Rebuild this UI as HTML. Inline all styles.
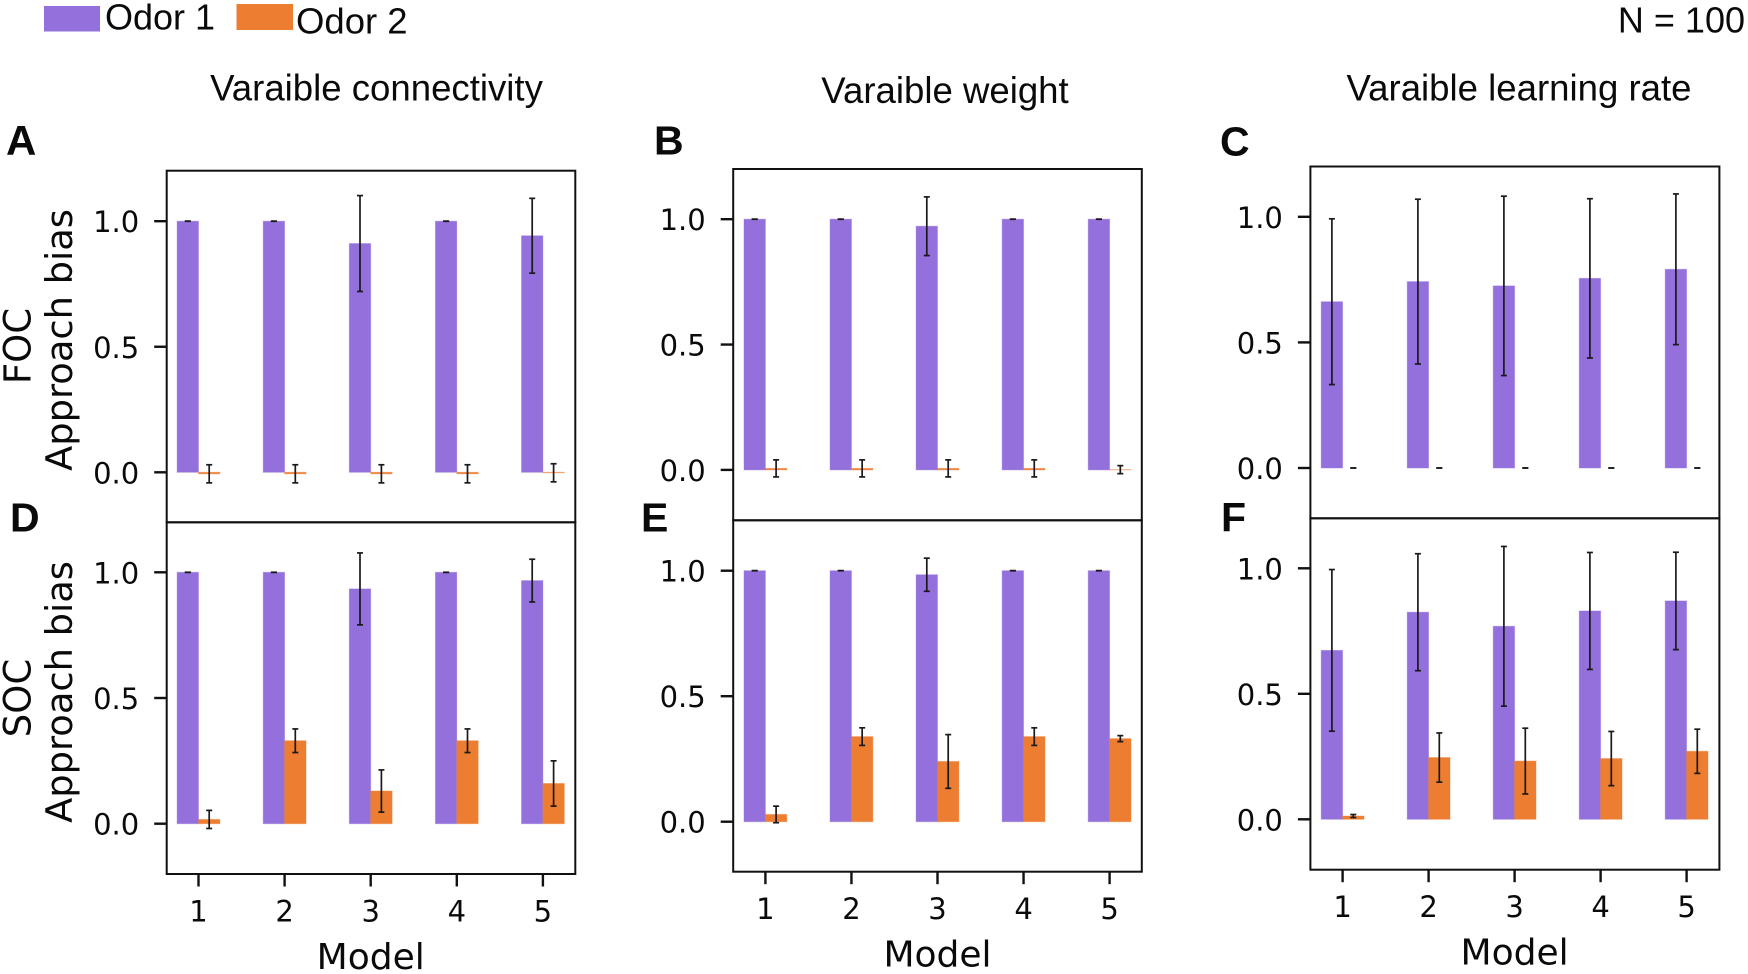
<!DOCTYPE html>
<html lang="en">
<head>
<meta charset="utf-8">
<title>Approach bias by model</title>
<style>
html,body{margin:0;padding:0;background:#fff;}
svg{display:block;}
.sans{font-family:"Liberation Sans",Arial,sans-serif;fill:#0a0a0a;}
.dv{font-family:"DejaVu Sans",Verdana,sans-serif;fill:#0a0a0a;}
</style>
</head>
<body>
<svg id="chart" xmlns="http://www.w3.org/2000/svg" width="1748" height="974" viewBox="0 0 1748 974">
  <rect x="0" y="0" width="1748" height="974" fill="#ffffff"/>
  <g>
    <rect x="44" y="6" width="56" height="25.5" fill="#9370DB"/>
    <text class="sans" x="105" y="29.5" font-size="36">Odor 1</text>
    <rect x="236.5" y="4" width="56.5" height="26" fill="#ED7D31"/>
    <text class="sans" x="296" y="33.5" font-size="36.5">Odor 2</text>
  </g>
  <text class="sans" x="1745" y="32.5" font-size="36" text-anchor="end">N = 100</text>
  <text class="sans" x="376.5" y="100.5" font-size="36.6" text-anchor="middle">Varaible connectivity</text>
  <text class="sans" x="945" y="103" font-size="36.6" text-anchor="middle">Varaible weight</text>
  <text class="sans" x="1519" y="100.5" font-size="36.6" text-anchor="middle">Varaible learning rate</text>
  <text class="sans" font-weight="700" x="6" y="155" font-size="42">A</text>
  <text class="sans" font-weight="700" x="654" y="154.5" font-size="41">B</text>
  <text class="sans" font-weight="700" x="1220" y="155.5" font-size="41">C</text>
  <text class="sans" font-weight="700" x="10" y="531.5" font-size="41">D</text>
  <text class="sans" font-weight="700" x="641" y="531.5" font-size="41">E</text>
  <text class="sans" font-weight="700" x="1221" y="531.5" font-size="41">F</text>
  <text class="dv" transform="translate(30.5 346) rotate(-90)" font-size="37" text-anchor="middle">FOC</text>
  <text class="dv" transform="translate(72 340) rotate(-90)" font-size="36.8" text-anchor="middle">Approach bias</text>
  <text class="dv" transform="translate(30.5 698) rotate(-90)" font-size="37" text-anchor="middle">SOC</text>
  <text class="dv" transform="translate(72 692) rotate(-90)" font-size="36.8" text-anchor="middle">Approach bias</text>
  <g id="panels"></g>
</svg>
<script>
// Shared categories and tick labels
const modelLabels = ['1', '2', '3', '4', '5'];
const yTickValues = [0, 0.5, 1];
const yTickLabels = ['0.0', '0.5', '1.0'];
const xAxisTitle = 'Model';

// Panel A: first-order conditioning, variable connectivity
const panelAOdor1 = [1, 1, 0.911, 1, 0.942];
const panelAOdor1Err = [0, 0, 0.191, 0, 0.149];
const panelAOdor2 = [-0.006, -0.006, -0.006, -0.006, -0.002];
const panelAOdor2Err = [0.036, 0.036, 0.036, 0.036, 0.036];

// Panel B: first-order conditioning, variable weight
const panelBOdor1 = [1, 1, 0.972, 1, 1];
const panelBOdor1Err = [0, 0, 0.117, 0, 0];
const panelBOdor2 = [0.006, 0.006, 0.006, 0.006, 0.001];
const panelBOdor2Err = [0.034, 0.034, 0.034, 0.034, 0.016];

// Panel C: first-order conditioning, variable learning rate
const panelCOdor1 = [0.662, 0.742, 0.725, 0.755, 0.791];
const panelCOdor1Err = [0.33, 0.328, 0.357, 0.317, 0.3];
const panelCOdor2 = [0, 0, 0, 0, 0];
const panelCOdor2Err = [0, 0, 0, 0, 0];

// Panel D: second-order conditioning, variable connectivity
const panelDOdor1 = [1, 1, 0.934, 1, 0.967];
const panelDOdor1Err = [0, 0, 0.143, 0, 0.085];
const panelDOdor2 = [0.017, 0.33, 0.13, 0.33, 0.16];
const panelDOdor2Err = [0.036, 0.047, 0.084, 0.047, 0.09];

// Panel E: second-order conditioning, variable weight
const panelEOdor1 = [1, 1, 0.984, 1, 1];
const panelEOdor1Err = [0, 0, 0.066, 0, 0];
const panelEOdor2 = [0.029, 0.339, 0.24, 0.339, 0.331];
const panelEOdor2Err = [0.033, 0.035, 0.107, 0.035, 0.012];

// Panel F: second-order conditioning, variable learning rate
const panelFOdor1 = [0.673, 0.825, 0.769, 0.83, 0.87];
const panelFOdor1Err = [0.322, 0.233, 0.318, 0.233, 0.194];
const panelFOdor2 = [0.013, 0.246, 0.232, 0.242, 0.271];
const panelFOdor2Err = [0.006, 0.098, 0.131, 0.108, 0.088];

const NS = 'http://www.w3.org/2000/svg';
const ODOR1_COLOR = '#9370DB';
const ODOR2_COLOR = '#ED7D31';
const BAR_W = 21.4;
const CAP_W = 6;
const root = document.getElementById('panels');

function make(parent, tag, attrs, text) {
  const node = document.createElementNS(NS, tag);
  for (const k in attrs) node.setAttribute(k, attrs[k]);
  if (text !== undefined) node.textContent = text;
  parent.appendChild(node);
  return node;
}

function yScaleFor(zeroY, oneY) {
  return function (v) { return zeroY + (oneY - zeroY) * v; };
}

function xScaleFor(firstX, stepX) {
  return function (i) { return firstX + stepX * i; };
}

function drawBar(g, x, y, v, color, id, i) {
  const top = Math.min(y(v), y(0));
  const h = Math.abs(y(v) - y(0));
  const bar = make(g, 'rect', {
    x: x - BAR_W / 2, y: top, width: BAR_W, height: h, fill: color,
    stroke: v === 0 ? 'none' : color, 'stroke-opacity': 0.4, 'stroke-width': 1
  });
  
  
}

function drawError(g, x, y, v, e, id, i) {
  const eg = make(g, 'g', { stroke: '#1a1a1a', 'stroke-width': 1.7, fill: 'none' });
  
  
  make(eg, 'line', { x1: x, x2: x, y1: y(v + e), y2: y(v - e) });
  make(eg, 'line', { x1: x - CAP_W / 2, x2: x + CAP_W / 2, y1: y(v + e), y2: y(v + e) });
  make(eg, 'line', { x1: x - CAP_W / 2, x2: x + CAP_W / 2, y1: y(v - e), y2: y(v - e) });
}

function drawPanel(cfg) {
  const y = yScaleFor(cfg.zeroY, cfg.oneY);
  const x = xScaleFor(cfg.firstX, cfg.stepX);
  const g = make(root, 'g', {});
  
  

  modelLabels.forEach(function (label, i) {
    drawBar(g, x(i) - BAR_W / 2, y, cfg.odor1[i], ODOR1_COLOR, cfg.id + '-odor-1', i);
    drawBar(g, x(i) + BAR_W / 2, y, cfg.odor2[i], ODOR2_COLOR, cfg.id + '-odor-2', i);
  });
  modelLabels.forEach(function (label, i) {
    drawError(g, x(i) - BAR_W / 2, y, cfg.odor1[i], cfg.odor1Err[i], cfg.id + '-odor-1', i);
    drawError(g, x(i) + BAR_W / 2, y, cfg.odor2[i], cfg.odor2Err[i], cfg.id + '-odor-2', i);
  });

  const frame = make(g, 'rect', {
    x: cfg.left, y: cfg.top, width: cfg.right - cfg.left, height: cfg.bottom - cfg.top,
    fill: 'none', stroke: '#111', 'stroke-width': 2
  });
  
  

  yTickValues.forEach(function (v, i) {
    const tick = make(g, 'line', {
      x1: cfg.left - 12.5, x2: cfg.left, y1: y(v), y2: y(v), stroke: '#111', 'stroke-width': 2.4
    });
    
    
    const lab = make(g, 'text', {
      x: cfg.left - 27.5, y: y(v) + 11, 'text-anchor': 'end', 'font-size': 29, class: 'dv'
    }, yTickLabels[i]);
    
    
  });

  if (cfg.showX) {
    modelLabels.forEach(function (label, i) {
      const tick = make(g, 'line', {
        x1: x(i), x2: x(i), y1: cfg.bottom, y2: cfg.bottom + 12.5, stroke: '#111', 'stroke-width': 2.4
      });
      
      
      const lab = make(g, 'text', {
        x: x(i), y: cfg.bottom + 47.5, 'text-anchor': 'middle', 'font-size': 29, class: 'dv'
      }, label);
      
      
    });
    const title = make(g, 'text', {
      x: x(2), y: cfg.bottom + 95, 'text-anchor': 'middle', 'font-size': 36, class: 'dv'
    }, xAxisTitle);
    
    
  }
}

drawPanel({ id: 'a', left: 166.7, right: 575.3, top: 170.7, bottom: 522.3, zeroY: 472.3, oneY: 221.2, firstX: 198.5, stepX: 86.1, showX: false,
  odor1: panelAOdor1, odor1Err: panelAOdor1Err, odor2: panelAOdor2, odor2Err: panelAOdor2Err });
drawPanel({ id: 'b', left: 733.2, right: 1141.8, top: 169, bottom: 520.3, zeroY: 469.9, oneY: 219.2, firstX: 765.4, stepX: 86.05, showX: false,
  odor1: panelBOdor1, odor1Err: panelBOdor1Err, odor2: panelBOdor2, odor2Err: panelBOdor2Err });
drawPanel({ id: 'c', left: 1310.4, right: 1719.4, top: 166.5, bottom: 518.3, zeroY: 468, oneY: 216.8, firstX: 1342.6, stepX: 86, showX: false,
  odor1: panelCOdor1, odor1Err: panelCOdor1Err, odor2: panelCOdor2, odor2Err: panelCOdor2Err });
drawPanel({ id: 'd', left: 166.7, right: 575.3, top: 522.3, bottom: 874, zeroY: 823.7, oneY: 572.3, firstX: 198.5, stepX: 86.1, showX: true,
  odor1: panelDOdor1, odor1Err: panelDOdor1Err, odor2: panelDOdor2, odor2Err: panelDOdor2Err });
drawPanel({ id: 'e', left: 733.2, right: 1141.8, top: 520.3, bottom: 871.7, zeroY: 821.7, oneY: 570.7, firstX: 765.4, stepX: 86.05, showX: true,
  odor1: panelEOdor1, odor1Err: panelEOdor1Err, odor2: panelEOdor2, odor2Err: panelEOdor2Err });
drawPanel({ id: 'f', left: 1310.4, right: 1719.4, top: 518.3, bottom: 869.7, zeroY: 819.3, oneY: 568.3, firstX: 1342.6, stepX: 86, showX: true,
  odor1: panelFOdor1, odor1Err: panelFOdor1Err, odor2: panelFOdor2, odor2Err: panelFOdor2Err });
</script>
</body>
</html>
